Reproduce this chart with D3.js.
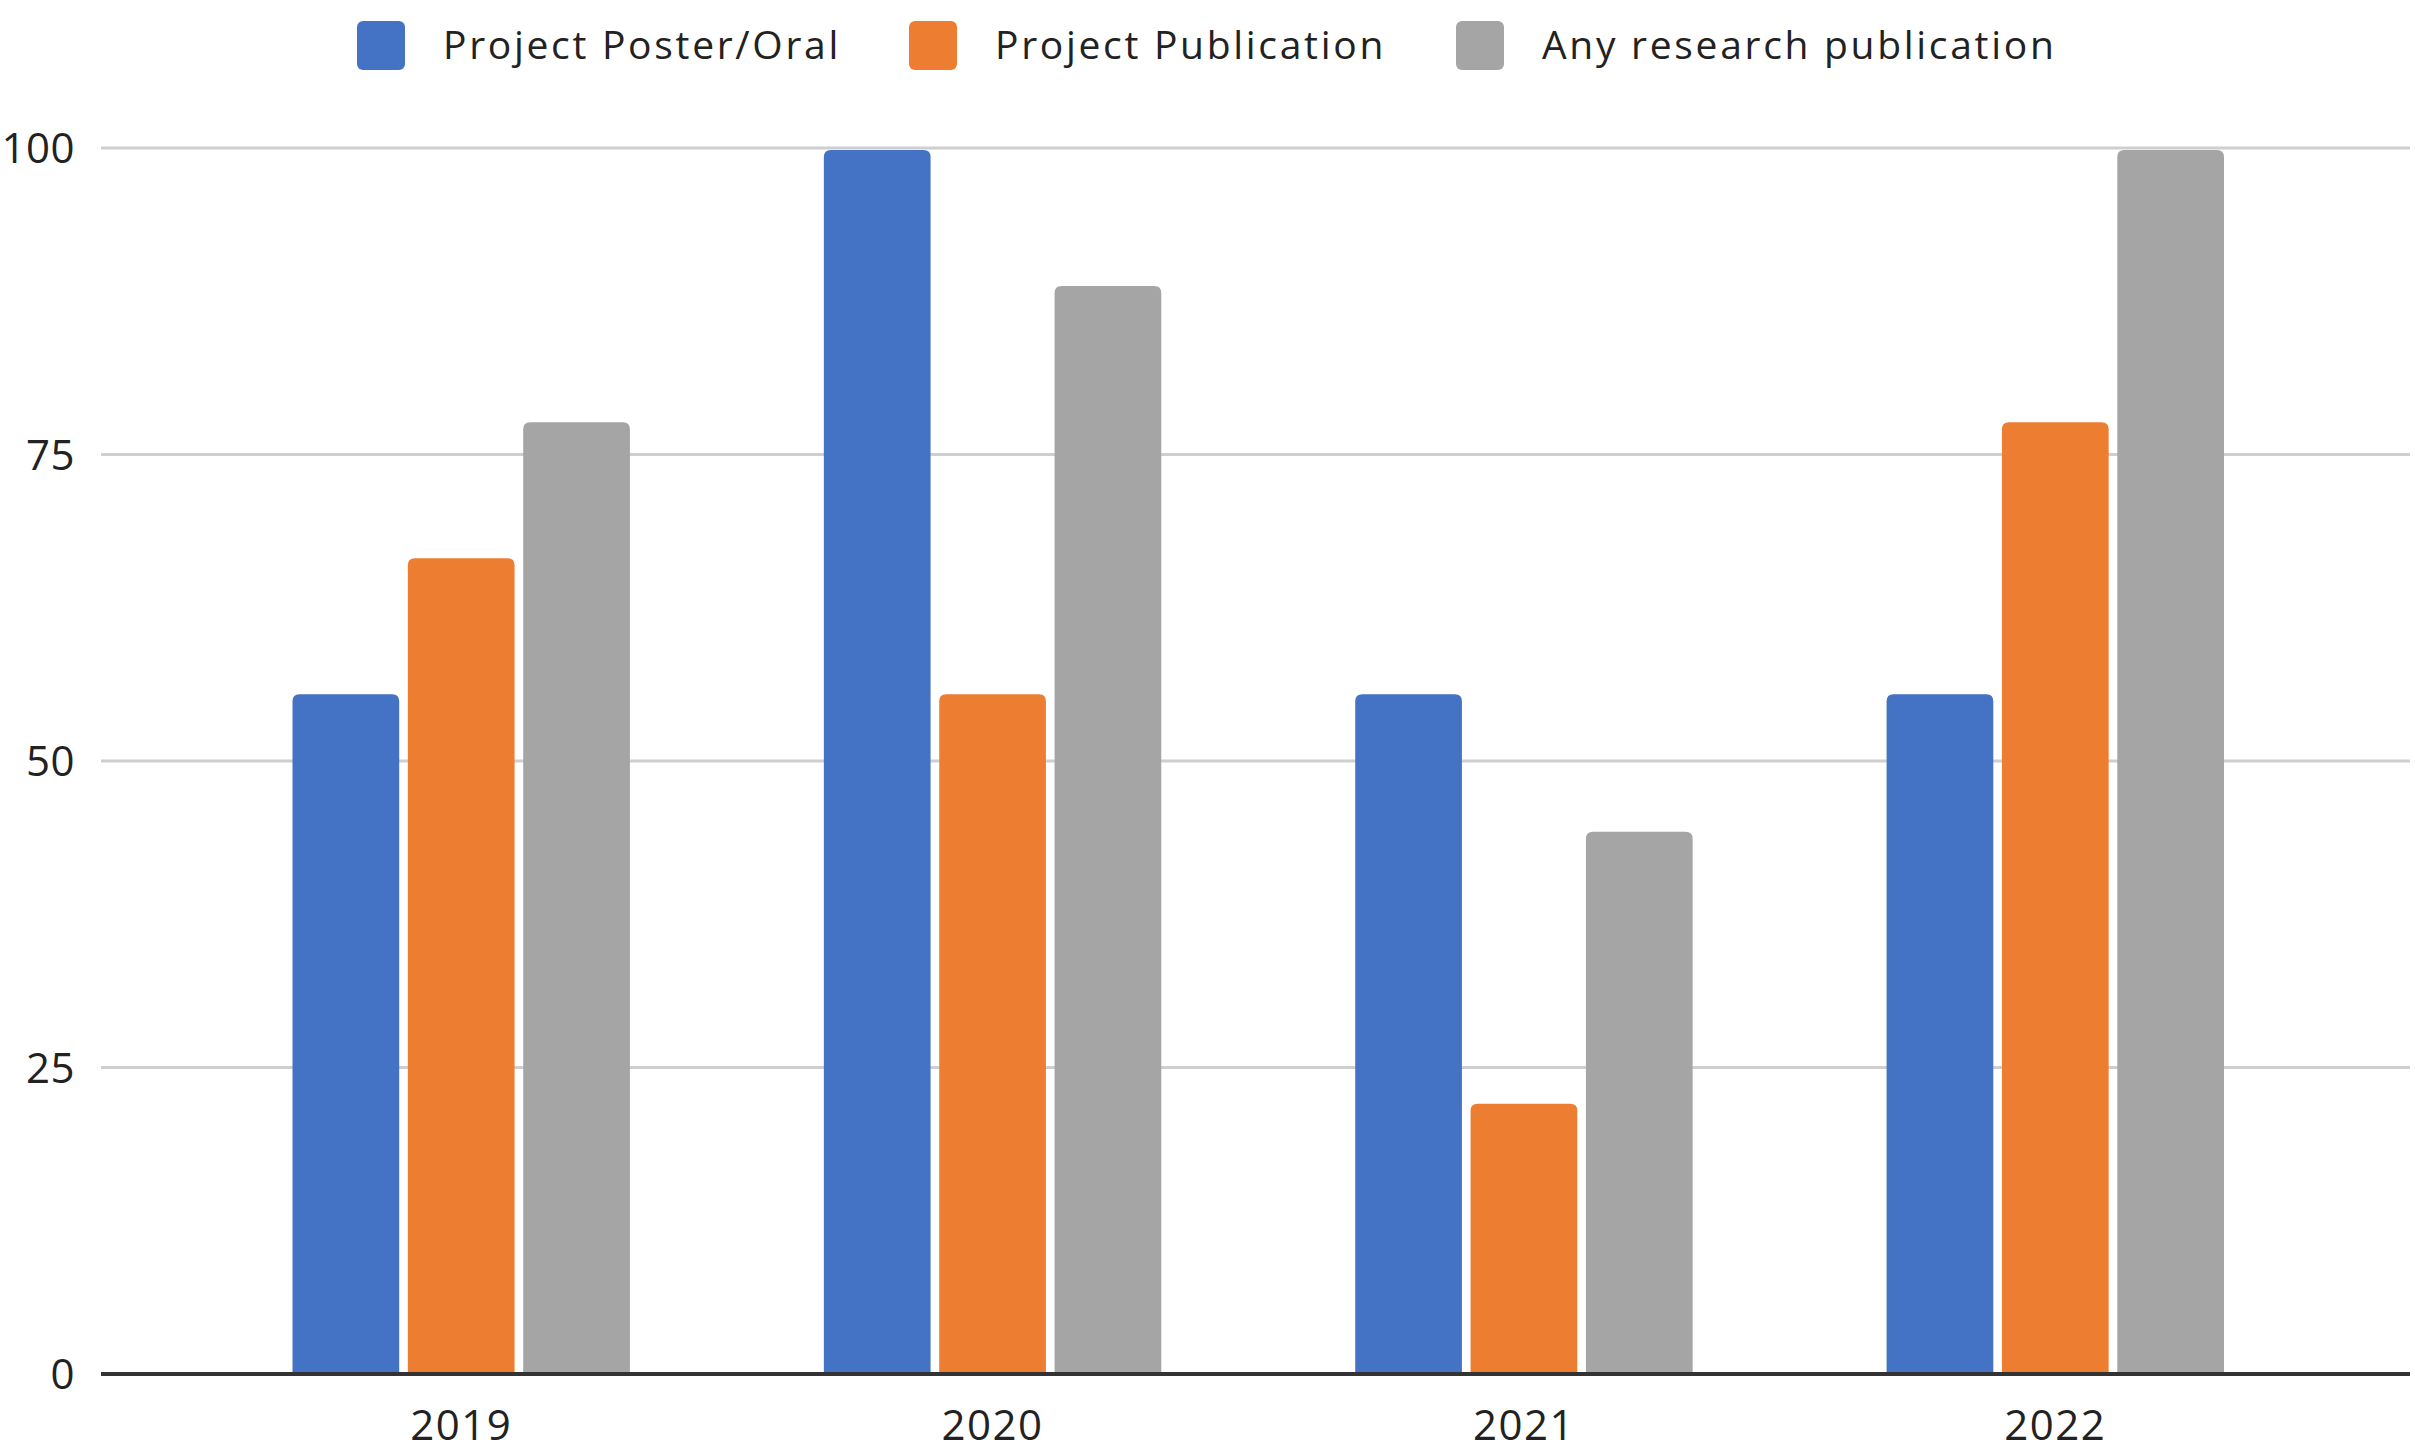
<!DOCTYPE html>
<html>
<head>
<meta charset="utf-8">
<script src="https://cdn.jsdelivr.net/npm/d3@7"></script>
<style>
  html, body { margin: 0; padding: 0; background: #fff; }
  svg { display: block; }
</style>
</head>
<body>
<div id="chart"></div>
<script>
const years = ["2019", "2020", "2021", "2022"];
const seriesNames = ["Project Poster/Oral", "Project Publication", "Any research publication"];
const posterOral = [55.6, 100, 55.6, 55.6];
const projectPub = [66.7, 55.6, 22.2, 77.8];
const anyPub = [77.8, 88.9, 44.4, 100];
const yTicks = [0, 25, 50, 75, 100];
const colors = ["#4472c4", "#ed7d31", "#a5a5a5"];

const W = 2415, H = 1452;
const margin = { left: 101, right: 2410, top: 148, bottom: 1374 };

const svg = d3.select("#chart").append("svg")
  .attr("width", W).attr("height", H)
  .style("font-family", "'Open Sans', sans-serif");

const values = [posterOral, projectPub, anyPub];
const data = years.map((yr, i) => ({ year: yr, vals: values.map(v => v[i]) }));

// groups span from first bar to last bar
const x0 = d3.scaleBand().domain(years).range([292.5, 2224])
  .paddingInner(0.365).paddingOuter(0);
const x1 = d3.scaleBand().domain(d3.range(3)).range([0, x0.bandwidth()])
  .paddingInner(0.075);
const y = d3.scaleLinear().domain([0, 100]).range([margin.bottom, margin.top]);

// grid
svg.append("g")
  .selectAll("line")
  .data(yTicks.filter(t => t > 0))
  .join("line")
  .attr("x1", margin.left).attr("x2", margin.right)
  .attr("y1", d => y(d)).attr("y2", d => y(d))
  .attr("stroke", "#cfcfcf").attr("stroke-width", 3);

// y labels
svg.append("g")
  .selectAll("text")
  .data(yTicks)
  .join("text")
  .attr("x", 75).attr("y", d => y(d))
  .attr("dy", "0.36em")
  .attr("text-anchor", "end")
  .attr("font-size", 42)
  .attr("letter-spacing", 0.5)
  .attr("fill", "#222")
  .text(d => d);

// bars with rounded tops
function barPath(x, w, y0, y1, r) {
  r = Math.min(r, (y0 - y1));
  return `M${x},${y0}V${y1 + r}Q${x},${y1} ${x + r},${y1}H${x + w - r}Q${x + w},${y1} ${x + w},${y1 + r}V${y0}Z`;
}

const groups = svg.append("g")
  .selectAll("g")
  .data(data)
  .join("g")
  .attr("transform", d => `translate(${x0(d.year)},0)`);

groups.selectAll("path")
  .data(d => d.vals.map((v, k) => ({ k, v })))
  .join("path")
  .attr("d", d => barPath(x1(d.k), x1.bandwidth(), y(0), y(d.v) + 2, 7))
  .attr("fill", d => colors[d.k]);

// x axis line
svg.append("line")
  .attr("x1", margin.left).attr("x2", margin.right)
  .attr("y1", y(0)).attr("y2", y(0))
  .attr("stroke", "#333").attr("stroke-width", 4);

// x labels
svg.append("g")
  .selectAll("text")
  .data(years)
  .join("text")
  .attr("x", d => x0(d) + x0.bandwidth() / 2)
  .attr("y", 1440)
  .attr("text-anchor", "middle")
  .attr("font-size", 42)
  .attr("letter-spacing", 1.5)
  .attr("fill", "#222")
  .text(d => d);

// legend
const legendX = [357, 909, 1456];
const leg = svg.append("g")
  .selectAll("g")
  .data(seriesNames)
  .join("g")
  .attr("transform", (d, i) => `translate(${legendX[i]},0)`);
leg.append("rect")
  .attr("x", 0).attr("y", 21).attr("width", 48).attr("height", 49)
  .attr("rx", 6)
  .attr("fill", (d, i) => colors[i]);
leg.append("text")
  .attr("x", 86).attr("y", 45).attr("dy", "0.36em")
  .attr("font-size", 39)
  .attr("letter-spacing", 2.7)
  .attr("fill", "#222")
  .text(d => d);
</script>
</body>
</html>
